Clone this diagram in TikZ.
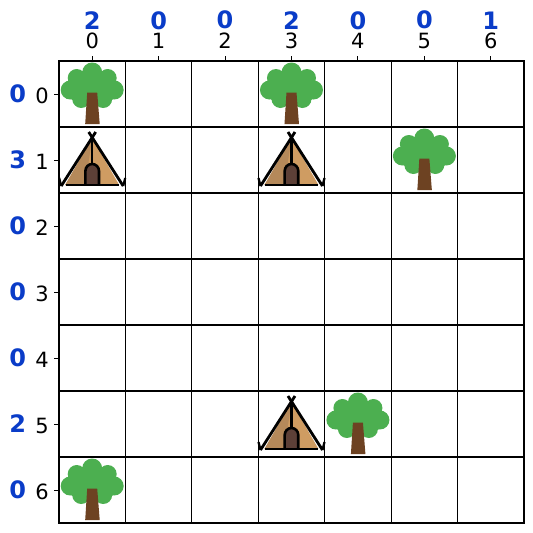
\documentclass[tikz,border=0pt]{standalone}
\usepackage{fontspec}
\setmainfont{DejaVu Sans}
\usepackage{xcolor}
\usepackage{tikz}
\usetikzlibrary{positioning}

\definecolor{leafgreen}{HTML}{4CAF50}
\definecolor{trunkbrown}{HTML}{6D4222}
\definecolor{tentdark}{HTML}{B5895A}
\definecolor{tentlight}{HTML}{CF9C62}
\definecolor{doorbrown}{HTML}{5D4037}
\definecolor{hintblue}{HTML}{0A3CC8}

\begin{document}
\begin{tikzpicture}[
    x=1pt, y=-1pt,
    cell/.style={rectangle, draw=black, line width=1.1pt, inner sep=0pt, outer sep=0pt, minimum width=66.43pt, minimum height=66pt},
    ticklabel/.style={inner sep=0pt, font=\fontsize{21}{25}\selectfont},
    hintlabel/.style={inner sep=0pt, text=hintblue, font=\fontsize{24}{28}\selectfont\bfseries},
    tick/.style={line width=1pt},
    tree/.pic={
        \fill[leafgreen] (0,-21.5) circle (10) (-15.5,-16) circle (9) (15.5,-16) circle (9)
            (-22,-4) circle (9.5) (22,-4) circle (9.5) (-11,5) circle (9) (11,5) circle (9)
            (-12,-3) circle (12) (12,-3) circle (12) (0,-6) circle (15);
        \fill[trunkbrown] (-5,-1.5) -- (5,-1.5) -- (7.5,30) -- (-7,30) -- cycle;
    },
    tent/.pic={
        \fill[tentlight] (0,-22) -- (27,25) -- (-27,25) -- cycle;
        \fill[tentdark] (0,-22) -- (-7,25) -- (-27,25) -- cycle;
        \fill[doorbrown] (-6.8,25) -- (-6.8,11) arc (180:360:6.8 and 7) -- (6.8,25) -- cycle;
        \draw[line width=2.6pt] (-6.8,25) -- (-6.8,11) arc (180:360:6.8 and 7) -- (6.8,25);
        \draw[line width=2.4pt] (0,4) -- (0,-22);
        \draw[line width=2.8pt] (-26.5,25) -- (26.5,25);
        \draw[line width=2.8pt] (-3.5,-28) -- (31,26);
        \draw[line width=2.8pt] (3.5,-28) -- (-31,26);
        \draw[line width=2.2pt] (-33,18) -- (-31,26);
        \draw[line width=2.2pt] (33,18) -- (31,26);
    }
]

\useasboundingbox (0,0) rectangle (533,533);

% board
\foreach \r in {0,...,6} {
    \foreach \c in {0,...,6} {
        \node[cell] (cell-\r-\c) at ({92.2+66.43*\c},{94+66*\r}) {};
    }
}

% column numbers and counts
\foreach \c/\n in {0/2,1/0,2/0,3/2,4/0,5/0,6/1} {
    \draw[tick] (cell-0-\c.north) -- ++(0,-5);
    \node[ticklabel, above=12.5pt of cell-0-\c.north] (coltick-\c) {\c};
    \node[hintlabel, above=3pt of coltick-\c.north] (colhint-\c) {\n};
}

% row numbers and counts
\foreach \r/\n in {0/0,1/3,2/0,3/0,4/0,5/2,6/0} {
    \draw[tick] (cell-\r-0.west) -- ++(-5,0);
    \node[ticklabel, left=10pt of cell-\r-0.west, yshift=-1.5pt] (rowtick-\r) {\r};
    \node[hintlabel, left=9pt of rowtick-\r.west, yshift=2pt] (rowhint-\r) {\n};
}

% objects
\foreach \r/\c in {0/0,0/3,1/5,5/4,6/0} {
    \pic at (cell-\r-\c) {tree};
}
\foreach \r/\c in {1/0,1/3,5/3} {
    \pic at (cell-\r-\c) {tent};
}

\end{tikzpicture}
\end{document}
